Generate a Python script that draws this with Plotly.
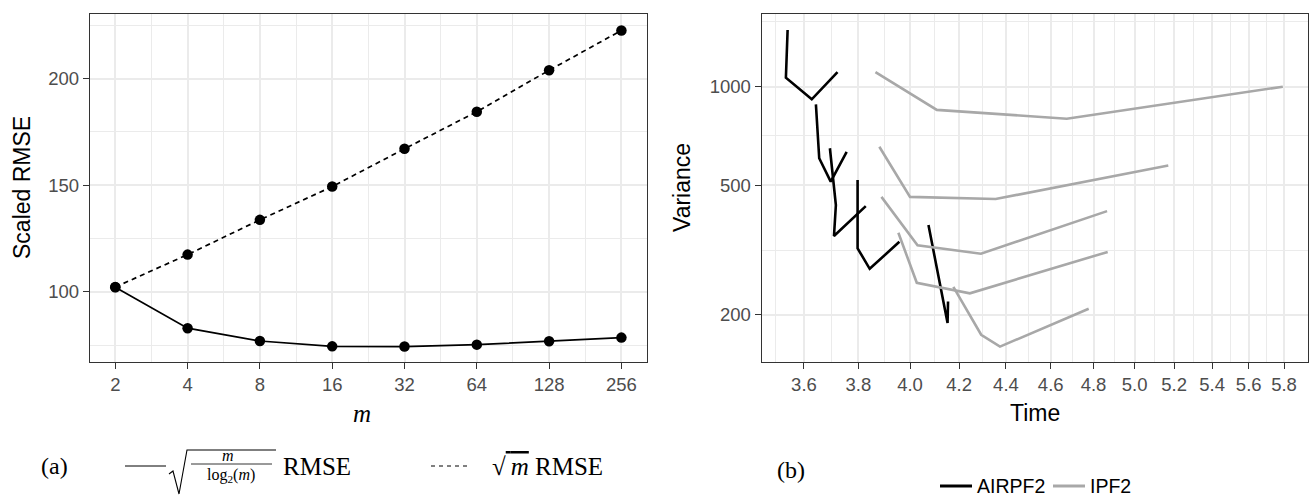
import plotly.graph_objects as go
import math

# ---------------- data ----------------
# panel (a)
m_values = [2, 4, 8, 16, 32, 64, 128, 256]
rmse_sqrt_m_over_log = [102.2, 83.0, 77.0, 74.5, 74.4, 75.3, 76.9, 78.6]
rmse_sqrt_m = [102.3, 117.5, 133.8, 149.4, 167.1, 184.5, 203.9, 222.6]
a_xtick_vals = [2, 4, 8, 16, 32, 64, 128, 256]
a_ytick_vals = [100, 150, 200]

# panel (b): each sub-list is one connected path
airpf2_time = [[3.542, 3.536, 3.628, 3.722],
               [3.643, 3.655, 3.697, 3.756],
               [3.694, 3.716, 3.709, 3.828],
               [3.797, 3.797, 3.843, 3.958],
               [4.074, 4.152, 4.154]]
airpf2_var = [[1492, 1066, 915, 1109],
              [883, 604, 512, 632],
              [648, 434, 349, 431],
              [518, 320, 277, 335],
              [377, 189, 220]]
ipf2_time = [[3.865, 4.108, 4.674, 5.793],
             [3.880, 4.000, 4.355, 5.170],
             [3.888, 4.030, 4.292, 4.865],
             [3.954, 4.027, 4.245, 4.868],
             [4.176, 4.293, 4.374, 4.777]]
ipf2_var = [[1109, 849, 798, 1000],
            [655, 460, 453, 574],
            [460, 327, 308, 416],
            [357, 251, 233, 312],
            [244, 174, 160, 209]]
b_xtick_vals = [3.6, 3.8, 4.0, 4.2, 4.4, 4.6, 4.8, 5.0, 5.2, 5.4, 5.6, 5.8]
b_xtick_text = ["3.6", "3.8", "4.0", "4.2", "4.4", "4.6", "4.8", "5.0", "5.2", "5.4", "5.6", "5.8"]
b_ytick_vals = [200, 500, 1000]
b_series_names = ["AIRPF2", "IPF2"]

# ---------------- layout helpers ----------------
W, H = 1314, 497
def X(px):
    return px / W
def Y(py):
    return 1 - py / H

def join_paths(xs, ys):
    ox, oy = [], []
    for a, b in zip(xs, ys):
        ox += a + [None]
        oy += b + [None]
    return ox, oy

SANS = "Liberation Sans, Arial, sans-serif"
SERIF = "Liberation Serif, DejaVu Serif, serif"
GRID = "#EBEBEB"
BORDER = "#333333"
TICKC = "#4D4D4D"
GRAY = "#A8A8A8"
b_colors = ["black", GRAY]

fig = go.Figure()

# panel (a)
fig.add_trace(go.Scatter(x=m_values, y=rmse_sqrt_m_over_log, mode="lines+markers",
                         line=dict(color="black", width=1.7), marker=dict(color="black", size=10.5),
                         xaxis="x", yaxis="y", showlegend=False))
fig.add_trace(go.Scatter(x=m_values, y=rmse_sqrt_m, mode="lines+markers",
                         line=dict(color="black", width=1.7, dash="5px,4px"), marker=dict(color="black", size=10.5),
                         xaxis="x", yaxis="y", showlegend=False))

# panel (b)
ax, ay = join_paths(airpf2_time, airpf2_var)
ix, iy = join_paths(ipf2_time, ipf2_var)
fig.add_trace(go.Scatter(x=ax, y=ay, mode="lines", name=b_series_names[0], showlegend=False,
                         line=dict(color=b_colors[0], width=2.6), xaxis="x2", yaxis="y2", connectgaps=False))
fig.add_trace(go.Scatter(x=ix, y=iy, mode="lines", name=b_series_names[1], showlegend=False,
                         line=dict(color=b_colors[1], width=2.6), xaxis="x2", yaxis="y2", connectgaps=False))

ydom = [Y(361.7), Y(14)]

def lg2(v):
    return math.log10(v)

a_minor_x = [2 ** (k + 0.5) for k in range(1, 8)]
b_minor_x = [math.sqrt(a * b) for a, b in zip([3.4] + b_xtick_vals[:-1], b_xtick_vals)]
b_minor_y = [math.sqrt(200 * 500), math.sqrt(500 * 1000), math.sqrt(1000 * 2500)]

common_axis = dict(showline=True, mirror=True, linecolor=BORDER, linewidth=1.3,
                   ticks="outside", ticklen=6, tickwidth=1.3, tickcolor=BORDER,
                   tickfont=dict(family=SANS, size=18.5, color=TICKC),
                   showgrid=True, gridcolor=GRID, gridwidth=1.8, zeroline=False,
                   automargin=False)
minor_common = dict(tickmode="array", showgrid=True, gridcolor=GRID, gridwidth=0.9, ticks="")

fig.update_layout(
    width=W, height=H, margin=dict(l=0, r=0, t=0, b=0),
    paper_bgcolor="white", plot_bgcolor="white",
    xaxis=dict(domain=[X(90), X(646.7)], type="log",
               range=[lg2(2 ** 0.65), lg2(2 ** 8.35)],
               tickmode="array", tickvals=a_xtick_vals, ticktext=[str(v) for v in a_xtick_vals],
               minor=dict(tickvals=a_minor_x, **minor_common),
               anchor="y", **common_axis),
    yaxis=dict(domain=ydom, range=[67.3, 230.3],
               tickmode="array", tickvals=a_ytick_vals,
               minor=dict(tickvals=[75, 125, 175, 225], **minor_common),
               anchor="x", **common_axis),
    xaxis2=dict(domain=[X(761.7), X(1307.7)], type="log",
                range=[lg2(3.452), lg2(5.938)],
                tickmode="array", tickvals=b_xtick_vals, ticktext=b_xtick_text,
                minor=dict(tickvals=b_minor_x, **minor_common),
                anchor="y2", **common_axis),
    yaxis2=dict(domain=ydom, type="log", range=[2.158, 3.2226],
                tickmode="array", tickvals=b_ytick_vals, ticktext=[str(v) for v in b_ytick_vals],
                minor=dict(tickvals=b_minor_y, **minor_common),
                anchor="x2", **common_axis),
    showlegend=False,
)

ann = []
# axis titles
ann.append(dict(text="Scaled RMSE", x=X(22), y=Y(188), xref="paper", yref="paper",
                textangle=-90, showarrow=False, font=dict(family=SANS, size=23, color="black"),
                xanchor="center", yanchor="middle"))
ann.append(dict(text="<i>m</i>", x=X(362), y=Y(413), xref="paper", yref="paper",
                showarrow=False, font=dict(family=SERIF, size=25, color="black"),
                xanchor="center", yanchor="middle"))
ann.append(dict(text="Variance", x=X(682), y=Y(188), xref="paper", yref="paper",
                textangle=-90, showarrow=False, font=dict(family=SANS, size=23, color="black"),
                xanchor="center", yanchor="middle"))
ann.append(dict(text="Time", x=X(1035), y=Y(413), xref="paper", yref="paper",
                showarrow=False, font=dict(family=SANS, size=23, color="black"),
                xanchor="center", yanchor="middle"))
# panel labels
ann.append(dict(text="(a)", x=X(54), y=Y(466), xref="paper", yref="paper", showarrow=False,
                font=dict(family=SERIF, size=24, color="black"), xanchor="center", yanchor="middle"))
ann.append(dict(text="(b)", x=X(791), y=Y(470), xref="paper", yref="paper", showarrow=False,
                font=dict(family=SERIF, size=24, color="black"), xanchor="center", yanchor="middle"))
# legend (a) texts
ann.append(dict(text="<i>m</i>", x=X(228), y=Y(455), xref="paper", yref="paper", showarrow=False,
                font=dict(family=SERIF, size=16, color="black"), xanchor="center", yanchor="middle"))
ann.append(dict(text="log<sub>2</sub>(<i>m</i>)", x=X(231), y=Y(475), xref="paper", yref="paper", showarrow=False,
                font=dict(family=SERIF, size=16, color="black"), xanchor="center", yanchor="middle"))
ann.append(dict(text="RMSE", x=X(281), y=Y(466), xref="paper", yref="paper", showarrow=False,
                font=dict(family=SERIF, size=25, color="black"), xanchor="left", yanchor="middle"))
ann.append(dict(text="√<span style='text-decoration:overline'>\u2009<i>m</i></span> RMSE", x=X(490), y=Y(466), xref="paper", yref="paper", showarrow=False,
                font=dict(family=SERIF, size=25, color="black"), xanchor="left", yanchor="middle"))
# legend (b) texts
ann.append(dict(text=b_series_names[0], x=X(975), y=Y(486), xref="paper", yref="paper", showarrow=False,
                font=dict(family=SANS, size=19.5, color="black"), xanchor="left", yanchor="middle"))
ann.append(dict(text=b_series_names[1], x=X(1088), y=Y(486), xref="paper", yref="paper", showarrow=False,
                font=dict(family=SANS, size=19.5, color="black"), xanchor="left", yanchor="middle"))

shapes = []
# legend (a) key lines
shapes.append(dict(type="line", xref="paper", yref="paper", x0=X(125), x1=X(166), y0=Y(466), y1=Y(466),
                   line=dict(color="black", width=1)))
shapes.append(dict(type="line", xref="paper", yref="paper", x0=X(431), x1=X(469), y0=Y(466), y1=Y(466),
                   line=dict(color="black", width=1, dash="4px,4px")))
# radical sign and fraction bar
path = "M {},{} L {},{} L {},{} L {},{} L {},{}".format(X(169), Y(474), X(173), Y(471), X(179), Y(494), X(187), Y(450), X(276), Y(450))
shapes.append(dict(type="path", xref="paper", yref="paper", path=path, line=dict(color="black", width=1.1)))
shapes.append(dict(type="line", xref="paper", yref="paper", x0=X(191), x1=X(272), y0=Y(464), y1=Y(464),
                   line=dict(color="black", width=0.8)))
# legend (b) key lines
shapes.append(dict(type="line", xref="paper", yref="paper", x0=X(940), x1=X(972), y0=Y(486), y1=Y(486),
                   line=dict(color=b_colors[0], width=3)))
shapes.append(dict(type="line", xref="paper", yref="paper", x0=X(1053), x1=X(1085), y0=Y(486), y1=Y(486),
                   line=dict(color=b_colors[1], width=3)))

fig.update_layout(annotations=ann, shapes=shapes)

fig.write_html("out.html", config={"displayModeBar": False},
               post_script="document.body.style.margin='0';document.body.style.overflow='hidden';")
